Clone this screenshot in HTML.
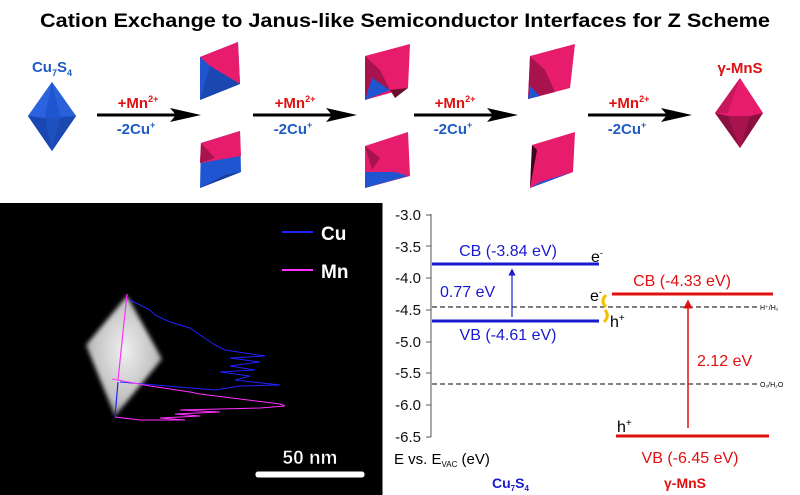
<!DOCTYPE html>
<html><head><meta charset="utf-8"><style>
html,body{margin:0;padding:0;background:#fff;}
svg{display:block;font-family:"Liberation Sans",Arial,sans-serif;}
</style></head><body>
<svg width="800" height="495" viewBox="0 0 800 495" xmlns="http://www.w3.org/2000/svg">
<defs>
<marker id="ab" markerWidth="6" markerHeight="6" refX="3" refY="3" orient="auto"><path d="M0,0 L6,3 L0,6 z" fill="#1a1acc"/></marker>
<marker id="ar" markerWidth="6" markerHeight="6" refX="3" refY="3" orient="auto"><path d="M0,0 L6,3 L0,6 z" fill="#e01010"/></marker>
<filter id="bl"><feGaussianBlur stdDeviation="2"/></filter>
</defs>
<text x="405" y="27" text-anchor="middle" font-size="19" font-weight="bold" textLength="730" lengthAdjust="spacingAndGlyphs">Cation Exchange to Janus-like Semiconductor Interfaces for Z Scheme</text>

<!-- Cu7S4 -->
<text x="52" y="72" text-anchor="middle" font-size="15" font-weight="bold" fill="#1f5bc4">Cu<tspan font-size="9" dy="4">7</tspan><tspan dy="-4">S</tspan><tspan font-size="9" dy="4">4</tspan></text>
<polygon points="52,82 28,116 52,151 76,116" fill="#1f55d0"/>
<polygon points="52,82 45,116 52,151 28,116" fill="#2a62e0"/>
<polygon points="52,82 76,116 60,116" fill="#2a60d8"/>
<polygon points="28,116 52,151 76,116 60,118 45,118" fill="#1a48b0"/>
<polygon points="45,118 52,151 60,118" fill="#1e50c0"/>

<!-- stage1 -->
<polygon points="200,57 238,42 240,84 200,100" fill="#1f55d0"/>
<polygon points="200,57 238,42 240,84 210,66" fill="#e81c6c"/>
<polygon points="210,66 240,84 200,100" fill="#1a48b0"/>
<polygon points="201,143 240,131 241,172 200,188" fill="#1f55d0"/>
<polygon points="201,143 240,131 241,156 200,163" fill="#e81c6c"/>
<polygon points="201,143 215,158 200,163" fill="#a8134e"/>
<polygon points="200,188 241,172 225,175" fill="#173e9a"/>

<!-- stage2 -->
<polygon points="365,56 410,44 408,88 365,100" fill="#e81c6c"/>
<polygon points="365,56 380,70 390,90 365,100" fill="#a8134e"/>
<polygon points="365,100 372,78 390,90" fill="#1f55d0"/>
<polygon points="390,90 408,88 395,98" fill="#6a0e30"/>
<polygon points="365,146 408,132 410,176 365,188" fill="#e81c6c"/>
<polygon points="365,146 380,158 372,170" fill="#a8134e"/>
<polygon points="365,172 395,172 408,176 365,188" fill="#1f55d0"/>

<!-- stage3 -->
<polygon points="530,56 575,44 570,88 528,99" fill="#e81c6c"/>
<polygon points="530,56 545,70 555,92 528,99" fill="#a8134e"/>
<polygon points="528,99 530,86 540,96" fill="#1f55d0"/>
<polygon points="532,145 575,132 573,172 530,188" fill="#e81c6c"/>
<polygon points="532,145 537,150 530,188" fill="#3a0818"/>
<polygon points="530,188 573,172 540,182" fill="#1f55d0"/>

<!-- MnS -->
<text x="740" y="73" text-anchor="middle" font-size="15" font-weight="bold" fill="#e01010">γ-MnS</text>
<polygon points="740,78 715,113 740,148 763,113" fill="#e81c6c"/>
<polygon points="740,78 728,113 715,113" fill="#c8175c"/>
<polygon points="715,113 740,148 763,113 750,116 728,116" fill="#8a1040"/>
<polygon points="728,116 740,148 750,116" fill="#a8134e"/>

<!-- arrows -->
<g font-weight="bold" font-size="15" text-anchor="middle">
<line x1="97" y1="115" x2="185" y2="115" stroke="#000" stroke-width="3"/><polygon points="170,108 201,115 170,122 176,115" fill="#000"/>
<text x="138" y="108" fill="#e01010">+Mn<tspan font-size="9" dy="-6">2+</tspan></text>
<text x="136" y="134" fill="#1f5bc4">-2Cu<tspan font-size="9" dy="-6">+</tspan></text>
<line x1="253" y1="115" x2="340" y2="115" stroke="#000" stroke-width="3"/><polygon points="326,108 357,115 326,122 332,115" fill="#000"/>
<text x="295" y="108" fill="#e01010">+Mn<tspan font-size="9" dy="-6">2+</tspan></text>
<text x="293" y="134" fill="#1f5bc4">-2Cu<tspan font-size="9" dy="-6">+</tspan></text>
<line x1="414" y1="115" x2="502" y2="115" stroke="#000" stroke-width="3"/><polygon points="487,108 518,115 487,122 493,115" fill="#000"/>
<text x="455" y="108" fill="#e01010">+Mn<tspan font-size="9" dy="-6">2+</tspan></text>
<text x="453" y="134" fill="#1f5bc4">-2Cu<tspan font-size="9" dy="-6">+</tspan></text>
<line x1="588" y1="115" x2="676" y2="115" stroke="#000" stroke-width="3"/><polygon points="661,108 692,115 661,122 667,115" fill="#000"/>
<text x="629" y="108" fill="#e01010">+Mn<tspan font-size="9" dy="-6">2+</tspan></text>
<text x="627" y="134" fill="#1f5bc4">-2Cu<tspan font-size="9" dy="-6">+</tspan></text>
</g>

<!-- black panel -->
<rect x="0" y="203" width="382" height="292" fill="#000"/>
<defs><radialGradient id="g" cx="0.5" cy="0.45" r="0.6"><stop offset="0" stop-color="#f0f0f0"/><stop offset="0.7" stop-color="#c0c0c0"/><stop offset="1" stop-color="#808080"/></radialGradient></defs>
<polygon points="127,296 86,345 115,416 162,359" fill="url(#g)" filter="url(#bl)"/>
<line x1="127" y1="294" x2="118" y2="380" stroke="#ff30ff" stroke-width="1.2"/>
<line x1="118" y1="382" x2="115" y2="417" stroke="#2020ff" stroke-width="1.2"/>
<polyline points="130,300 150,310 155,315 170,322 190,328 200,335 215,345 225,350 265,356 230,358 260,362 230,366 255,370 220,372 250,376 235,380 280,385 240,386 215,390 120,382" fill="none" stroke="#2020ff" stroke-width="1"/>
<polyline points="112,379 150,386 190,392 200,394 280,404 285,406 260,408 180,410 220,412 175,414 200,416 160,418 185,420 140,420 115,417" fill="none" stroke="#ff30ff" stroke-width="1"/>
<line x1="282" y1="232" x2="313" y2="232" stroke="#2020ff" stroke-width="2"/>
<line x1="282" y1="270" x2="313" y2="270" stroke="#ff30ff" stroke-width="2"/>
<text x="321" y="240" fill="#fff" font-size="19" font-weight="bold">Cu</text>
<text x="321" y="278" fill="#fff" font-size="19" font-weight="bold">Mn</text>
<text x="310" y="464" text-anchor="middle" fill="#fff" stroke="#000" stroke-width="0.5" font-size="19" font-weight="bold">50 nm</text>
<rect x="255" y="471" width="110" height="7" rx="3" fill="#fff" stroke="#000" stroke-width="1"/>

<!-- energy diagram -->
<line x1="382" y1="203" x2="382" y2="495" stroke="#000" stroke-width="1"/>
<line x1="431" y1="214" x2="431" y2="437" stroke="#555" stroke-width="1"/>
<g font-size="15" text-anchor="end" fill="#111">
<text x="421" y="220">-3.0</text><text x="421" y="252">-3.5</text><text x="421" y="283">-4.0</text><text x="421" y="315">-4.5</text><text x="421" y="347">-5.0</text><text x="421" y="378">-5.5</text><text x="421" y="410">-6.0</text><text x="421" y="442">-6.5</text>
</g>
<g stroke="#555"><line x1="426" y1="215" x2="431" y2="215"/><line x1="426" y1="246" x2="431" y2="246"/><line x1="426" y1="278" x2="431" y2="278"/><line x1="426" y1="310" x2="431" y2="310"/><line x1="426" y1="342" x2="431" y2="342"/><line x1="426" y1="373" x2="431" y2="373"/><line x1="426" y1="405" x2="431" y2="405"/><line x1="426" y1="437" x2="431" y2="437"/></g>
<line x1="432" y1="307" x2="758" y2="307" stroke="#000" stroke-dasharray="5,3" stroke-width="1"/>
<line x1="432" y1="384" x2="758" y2="384" stroke="#000" stroke-dasharray="5,3" stroke-width="1"/>
<text x="760" y="310" font-size="7">H⁺/H₂</text>
<text x="760" y="387" font-size="7">O₂/H₂O</text>
<line x1="432" y1="264" x2="599" y2="264" stroke="#1a1acc" stroke-width="3"/>
<line x1="432" y1="321" x2="599" y2="321" stroke="#1a1acc" stroke-width="3"/>
<line x1="612" y1="294" x2="773" y2="294" stroke="#e01010" stroke-width="3"/>
<line x1="616" y1="436" x2="769" y2="436" stroke="#e01010" stroke-width="3"/>
<line x1="512" y1="317" x2="512" y2="272" stroke="#1a1acc" stroke-width="1.2" marker-end="url(#ab)"/>
<line x1="688" y1="428" x2="688" y2="304" stroke="#e01010" stroke-width="1.5" marker-end="url(#ar)"/>
<g font-size="16">
<text x="508" y="256" text-anchor="middle" fill="#1a1acc">CB (-3.84 eV)</text>
<text x="440" y="297" fill="#1a1acc">0.77 eV</text>
<text x="508" y="340" text-anchor="middle" fill="#1a1acc">VB (-4.61 eV)</text>
<text x="591" y="262">e<tspan font-size="9" dy="-6">-</tspan></text>
<text x="590" y="301">e<tspan font-size="9" dy="-6">-</tspan></text>
<text x="610" y="327">h<tspan font-size="10" dy="-6">+</tspan></text>
<text x="682" y="286" text-anchor="middle" fill="#e01010">CB (-4.33 eV)</text>
<text x="697" y="366" fill="#e01010">2.12 eV</text>
<text x="617" y="432">h<tspan font-size="10" dy="-6">+</tspan></text>
<text x="690" y="463" text-anchor="middle" fill="#e01010">VB (-6.45 eV)</text>
<text x="394" y="464" font-size="15">E vs. E<tspan font-size="8" dy="3">VAC</tspan><tspan dy="-3"> (eV)</tspan></text>
</g>
<path d="M606,295 q-6,6 0,12 M605,310 q5,6 -1,12" fill="none" stroke="#f5c000" stroke-width="3"/>
<text x="492" y="488" font-size="14" font-weight="bold" fill="#1a1acc">Cu<tspan font-size="8" dy="3">7</tspan><tspan dy="-3">S</tspan><tspan font-size="8" dy="3">4</tspan></text>
<text x="664" y="488" font-size="14" font-weight="bold" fill="#e01010">γ-MnS</text>
</svg>
</body></html>
